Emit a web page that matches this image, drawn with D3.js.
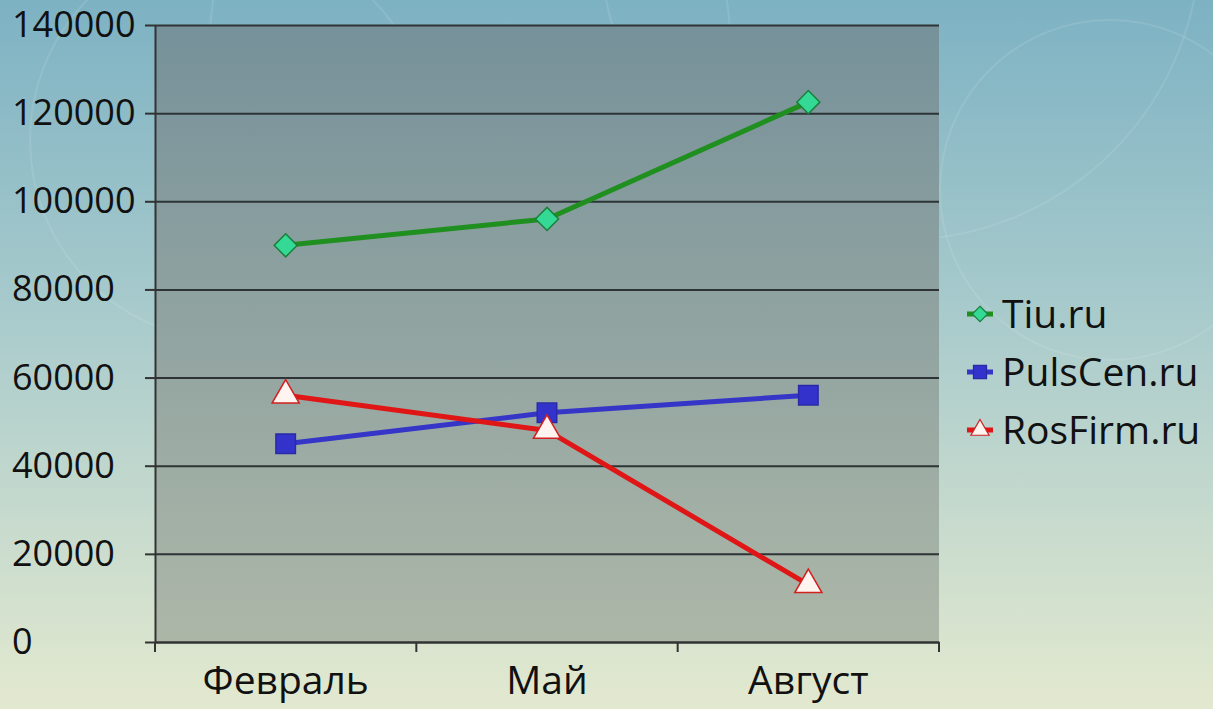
<!DOCTYPE html>
<html>
<head>
<meta charset="utf-8">
<script src="https://cdn.jsdelivr.net/npm/d3@7"></script>
<style>
  html, body { margin: 0; padding: 0; overflow: hidden; }
  svg { display: block; }
  text { font-family: "Open Sans", sans-serif; fill: #111; }
</style>
</head>
<body>
<svg id="chart" width="1213" height="709"></svg>
<script>
// chart data
const months = ['Февраль', 'Май', 'Август'];
const seriesNames = ['Tiu.ru', 'PulsCen.ru', 'RosFirm.ru'];
const tiuValues = [90000, 96000, 122500];
const pulsValues = [45000, 52000, 56000];
const rosValues = [56000, 48000, 13000];
const yTicks = [0, 20000, 40000, 60000, 80000, 100000, 120000, 140000];

const width = 1213;
const height = 709;
const margin = ({ top: 25, right: 274, bottom: 67, left: 155 });
const svg = d3.select('#chart');

const series = [
  { name: seriesNames[0], values: tiuValues, stroke: '#1f8f1f', fill: '#35d996', edge: '#1c7f3c', symbol: d3.symbolDiamond2, size: 340 },
  { name: seriesNames[1], values: pulsValues, stroke: '#3535c8', fill: '#3333cc', edge: '#2a2aa8', symbol: d3.symbolSquare, size: 380 },
  { name: seriesNames[2], values: rosValues, stroke: '#e01515', fill: '#fff4f0', edge: '#d02020', symbol: d3.symbolTriangle, size: 320 }
];

const defs = svg.append('defs');
const bg = defs.append('linearGradient').attr('id', 'bg').attr('x1', 0).attr('y1', 0).attr('x2', 0).attr('y2', 1);
bg.append('stop').attr('offset', '0%').attr('stop-color', '#7db2c3');
bg.append('stop').attr('offset', '45%').attr('stop-color', '#a9cbcc');
bg.append('stop').attr('offset', '100%').attr('stop-color', '#e3e9cf');
const plotBg = defs.append('linearGradient').attr('id', 'plotBg').attr('x1', 0).attr('y1', 0).attr('x2', 0).attr('y2', 1);
plotBg.append('stop').attr('offset', '0%').attr('stop-color', '#76919a');
plotBg.append('stop').attr('offset', '100%').attr('stop-color', '#adb7a8');

svg.append('rect').attr('width', width).attr('height', height).attr('fill', 'url(#bg)');

// faint decorative arcs
const deco = svg.append('g').attr('fill', 'none').attr('stroke', '#ffffff').attr('stroke-opacity', 0.1).attr('stroke-width', 2);
[[230, 140, 200], [470, 40, 260], [1110, 190, 170], [900, -60, 300]].forEach(c => {
  deco.append('circle').attr('cx', c[0]).attr('cy', c[1]).attr('r', c[2]);
});

const x = d3.scaleBand()
  .domain(months)
  .range([margin.left, width - margin.right]);

const y = d3.scaleLinear()
  .domain([0, 140000])
  .range([height - margin.bottom, margin.top]);

svg.append('rect')
  .attr('x', margin.left)
  .attr('y', margin.top)
  .attr('width', x.range()[1] - margin.left)
  .attr('height', y(0) - margin.top)
  .attr('fill', 'url(#plotBg)');

// grid + y axis, labels left aligned at the page edge
const yAxis = g => g
  .attr('transform', `translate(${margin.left},0)`)
  .call(d3.axisLeft(y).tickValues(yTicks).tickFormat(d3.format('d')).tickSizeOuter(0).tickSizeInner(10))
  .call(g => g.select('.domain').attr('stroke', '#333').attr('stroke-width', 2))
  .call(g => g.selectAll('.tick line').attr('stroke', '#333').attr('stroke-width', 2))
  .call(g => g.selectAll('.tick').append('line')
    .attr('x2', x.range()[1] - margin.left)
    .attr('stroke', '#2e3436').attr('stroke-width', 2))
  .call(g => g.selectAll('.tick text')
    .attr('x', 12 - margin.left)
    .attr('text-anchor', 'start')
    .attr('font-size', 36).attr('font-family', '"Open Sans", sans-serif').attr('fill', '#111'));

svg.append('g').call(yAxis);

// x axis
const xAxis = g => g
  .attr('transform', `translate(0,${y(0)})`)
  .call(d3.axisBottom(x).tickSize(0).tickPadding(24))
  .call(g => g.select('.domain').attr('stroke', '#333').attr('stroke-width', 2))
  .call(g => g.selectAll('.tick text')
    .attr('font-size', 39).attr('font-family', '"Open Sans", sans-serif').attr('fill', '#111'));

svg.append('g').call(xAxis);

const bounds = months.map(m => x(m)).concat([x.range()[1]]);
svg.append('g')
  .selectAll('line')
  .data(bounds)
  .join('line')
  .attr('x1', d => d).attr('x2', d => d)
  .attr('y1', y(0)).attr('y2', y(0) + 10)
  .attr('stroke', '#333').attr('stroke-width', 2);

const line = d3.line()
  .x((d, i) => x(months[i]) + x.bandwidth() / 2)
  .y(d => y(d));

const lines = svg.append('g');
series.forEach(s => {
  lines.append('path')
    .attr('d', line(s.values))
    .attr('fill', 'none')
    .attr('stroke', s.stroke)
    .attr('stroke-width', 5)
    .attr('stroke-linejoin', 'round');
});

series.forEach(s => {
  lines.append('g')
    .selectAll('path')
    .data(s.values)
    .join('path')
    .attr('transform', (d, i) => `translate(${x(months[i]) + x.bandwidth() / 2},${y(d)})`)
    .attr('d', d3.symbol(s.symbol, s.size))
    .attr('fill', s.fill)
    .attr('stroke', s.edge)
    .attr('stroke-width', 1.5);
});

// legend
const legend = svg.append('g').attr('transform', 'translate(980,314)');
series.forEach((s, i) => {
  const row = legend.append('g').attr('transform', `translate(0,${i * 58})`);
  row.append('line').attr('x1', -13).attr('x2', 13)
    .attr('stroke', s.stroke).attr('stroke-width', 5);
  row.append('path')
    .attr('d', d3.symbol(s.symbol, s.size * 0.45))
    .attr('fill', s.fill).attr('stroke', s.edge).attr('stroke-width', 1.2);
  row.append('text')
    .attr('x', 22)
    .attr('dy', '0.35em')
    .attr('font-size', 39)
    .text(s.name);
});
</script>
</body>
</html>
